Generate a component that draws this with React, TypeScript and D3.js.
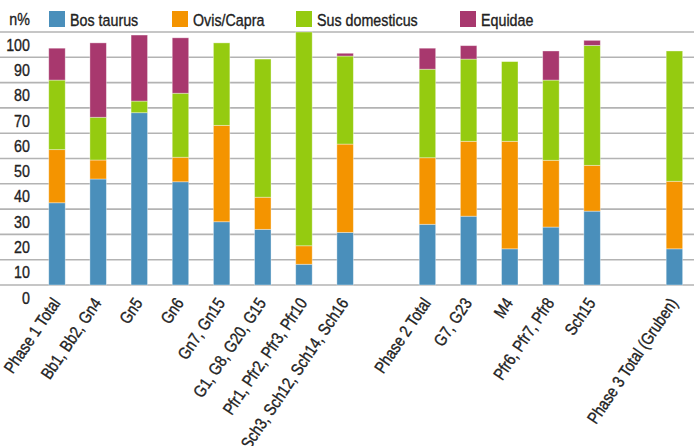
import React from "react";
import * as d3 from "d3";

const categories = [
  "Phase 1 Total",
  "Bb1, Bb2, Gn4",
  "Gn5",
  "Gn6",
  "Gn7, Gn15",
  "G1, G8, G20, G15",
  "Pfr1, Pfr2, Pfr3, Pfr10",
  "Sch3, Sch12, Sch14, Sch16",
  "",
  "Phase 2 Total",
  "G7, G23",
  "M4",
  "Pfr6, Pfr7, Pfr8",
  "Sch15",
  " ",
  "Phase 3 Total (Gruben)",
];

const seriesNames = ["Bos taurus", "Ovis/Capra", "Sus domesticus", "Equidae"];
const seriesColors = ["#4a8fbb", "#f49400", "#95cb10", "#a8386e"];

const bosTaurus = [32.5, 41.9, 68.1, 40.8, 25.0, 22.0, 8.2, 20.8, 0, 24.0, 27.2, 14.3, 22.9, 29.2, 0, 14.3];
const ovisCapra = [21.0, 7.5, 0, 9.7, 38.1, 12.7, 7.3, 34.9, 0, 26.3, 29.6, 42.5, 26.4, 18.1, 0, 26.7];
const susDomesticus = [27.5, 16.9, 4.6, 25.3, 32.6, 54.6, 84.5, 34.8, 0, 35.0, 32.5, 31.5, 31.7, 47.4, 0, 51.5];
const equidae = [12.6, 29.4, 26.1, 21.9, 0, 0, 0, 1.1, 0, 8.3, 5.3, 0, 11.5, 2.0, 0, 0];

const yTicks = [0, 10, 20, 30, 40, 50, 60, 70, 80, 90, 100];

const SX = 0.84;

export default function App() {
  const W = 694;
  const H = 446;
  const font = "'Liberation Sans', Arial, sans-serif";
  const textProps = { fontSize: 17, fill: "#222", stroke: "#222", strokeWidth: 0.35 };

  const x = d3
    .scaleBand<string>()
    .domain(categories)
    .range([36.4, 695])
    .paddingInner(0.6)
    .paddingOuter(0.3);

  const y = d3.scaleLinear().domain([0, 100]).range([285, 32]);

  const rows = categories.map((c, i) => ({
    cat: c,
    s0: bosTaurus[i],
    s1: ovisCapra[i],
    s2: susDomesticus[i],
    s3: equidae[i],
  }));
  const stack = d3.stack<any>().keys(["s0", "s1", "s2", "s3"]);
  const stacked = stack(rows);

  const legendX = [49, 172, 296, 460];

  return (
    <svg
      width={W}
      height={H}
      style={{ position: "absolute", left: 0, top: 0, background: "#fff" }}
      fontFamily={font}
    >
      {yTicks.map((t) => (
        <line key={"g" + t} x1={0} x2={W} y1={y(t)} y2={y(t)} stroke="#b3b3b3" strokeWidth={1.6} />
      ))}
      {yTicks.map((t) => (
        <text
          key={"t" + t}
          transform={`translate(30,${y(t - 5) + 6}) scale(${SX},1)`}
          textAnchor="end"
          {...textProps}
        >
          {t}
        </text>
      ))}
      <text
        transform={`translate(30,${y(105) + 6}) scale(${SX},1)`}
        textAnchor="end"
        {...textProps}
      >
        n%
      </text>

      {stacked.map((layer, si) => (
        <g key={"l" + si} fill={seriesColors[si]}>
          {layer.map((d, i) => {
            const h = y(d[0]) - y(d[1]);
            if (h <= 0) return null;
            return (
              <rect
                key={i}
                x={x(categories[i])!}
                width={x.bandwidth()}
                y={y(d[1])}
                height={h}
                stroke="rgba(255,255,255,0.45)"
                strokeWidth={0.8}
              />
            );
          })}
        </g>
      ))}

      {categories.map((c, i) =>
        c.trim() === "" ? null : (
          <text
            key={"c" + i}
            transform={`translate(${x(c)! + x.bandwidth() / 2 + 4},${303}) rotate(-56) scale(${SX},1)`}
            textAnchor="end"
            {...textProps}
          >
            {c}
          </text>
        )
      )}

      {seriesNames.map((n, i) => (
        <g key={"lg" + i} transform={`translate(${legendX[i]},11)`}>
          <rect width={16} height={16} fill={seriesColors[i]} />
          <text transform={`translate(21,15) scale(${SX},1)`} {...textProps}>
            {n}
          </text>
        </g>
      ))}
    </svg>
  );
}
